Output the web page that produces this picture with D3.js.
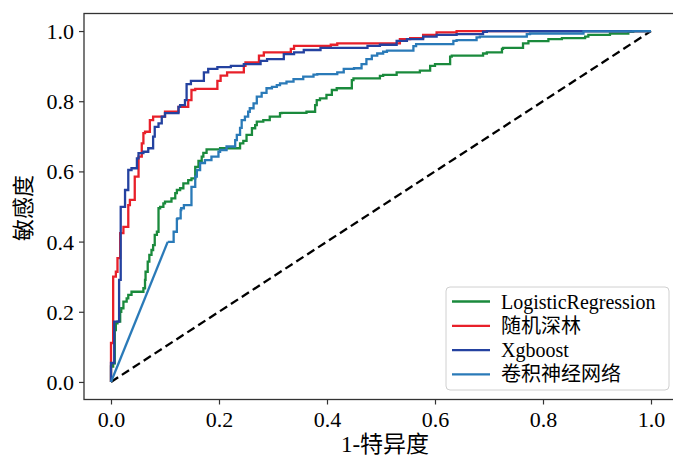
<!DOCTYPE html>
<html>
<head>
<meta charset="utf-8">
<script src="https://cdn.jsdelivr.net/npm/d3@7"></script>
<style>
  body { margin: 0; background: #fff; }
  svg text { font-family: "Liberation Serif", "Noto Sans CJK SC", serif; }
</style>
</head>
<body>
<div id="chart"></div>
<script>
// series names, in legend order
var seriesNames = ["LogisticRegression", "随机深林", "Xgboost", "卷积神经网络"];

// ROC points (false positive rate, true positive rate)
var lrFpr = [0, 0.004, 0.007, 0.009, 0.012, 0.017, 0.019, 0.023, 0.029, 0.032, 0.038, 0.041, 0.060, 0.063, 0.064, 0.068, 0.071, 0.075, 0.078, 0.081, 0.085, 0.088, 0.091, 0.097, 0.100, 0.112, 0.119, 0.122, 0.128, 0.134, 0.143, 0.149, 0.156, 0.162, 0.168, 0.171, 0.177, 0.202, 0.239, 0.245, 0.251, 0.261, 0.267, 0.270, 0.282, 0.294, 0.313, 0.316, 0.362, 0.378, 0.381, 0.387, 0.399, 0.409, 0.418, 0.446, 0.449, 0.498, 0.504, 0.529, 0.572, 0.591, 0.600, 0.628, 0.631, 0.689, 0.696, 0.724, 0.726, 0.763, 0.773, 0.810, 0.835, 0.878, 0.884, 0.924, 0.958, 0.967, 1];
var lrTpr = [0, 0.044, 0.053, 0.148, 0.167, 0.172, 0.200, 0.210, 0.229, 0.238, 0.248, 0.257, 0.257, 0.267, 0.291, 0.314, 0.343, 0.362, 0.376, 0.390, 0.419, 0.428, 0.495, 0.499, 0.509, 0.514, 0.523, 0.538, 0.547, 0.552, 0.566, 0.575, 0.580, 0.613, 0.630, 0.642, 0.653, 0.663, 0.666, 0.680, 0.687, 0.704, 0.723, 0.732, 0.742, 0.746, 0.756, 0.766, 0.767, 0.770, 0.789, 0.803, 0.808, 0.818, 0.832, 0.837, 0.860, 0.865, 0.872, 0.875, 0.882, 0.887, 0.901, 0.906, 0.927, 0.930, 0.936, 0.939, 0.949, 0.952, 0.965, 0.971, 0.977, 0.980, 0.984, 0.989, 0.993, 0.998, 1];

var rfFpr = [0, 0, 0.004, 0.004, 0.009, 0.009, 0.012, 0.012, 0.017, 0.017, 0.023, 0.032, 0.035, 0.044, 0.051, 0.057, 0.060, 0.063, 0.072, 0.078, 0.100, 0.125, 0.143, 0.149, 0.156, 0.197, 0.203, 0.215, 0.246, 0.249, 0.274, 0.283, 0.333, 0.339, 0.407, 0.419, 0.535, 0.554, 0.578, 0.603, 0.640, 0.659, 1];
var rfTpr = [0, 0.111, 0.111, 0.300, 0.300, 0.314, 0.314, 0.353, 0.353, 0.424, 0.424, 0.442, 0.504, 0.519, 0.585, 0.642, 0.680, 0.709, 0.713, 0.746, 0.756, 0.770, 0.784, 0.803, 0.832, 0.835, 0.858, 0.873, 0.882, 0.901, 0.911, 0.930, 0.939, 0.949, 0.958, 0.961, 0.965, 0.977, 0.980, 0.989, 0.996, 1, 1];

var xgbFpr = [0, 0, 0.006, 0.006, 0.015, 0.015, 0.018, 0.018, 0.026, 0.026, 0.032, 0.032, 0.038, 0.048, 0.051, 0.060, 0.069, 0.078, 0.081, 0.088, 0.094, 0.100, 0.112, 0.125, 0.128, 0.137, 0.140, 0.140, 0.148, 0.160, 0.172, 0.180, 0.197, 0.222, 0.246, 0.277, 0.289, 0.320, 0.339, 0.357, 0.388, 0.475, 0.498, 0.529, 0.548, 0.578, 0.603, 0.640, 0.689, 0.696, 1];
var xgbTpr = [0, 0.054, 0.054, 0.172, 0.172, 0.291, 0.291, 0.495, 0.499, 0.547, 0.547, 0.580, 0.604, 0.609, 0.637, 0.652, 0.656, 0.666, 0.699, 0.727, 0.737, 0.756, 0.766, 0.766, 0.784, 0.789, 0.803, 0.838, 0.849, 0.858, 0.858, 0.882, 0.892, 0.897, 0.901, 0.906, 0.915, 0.920, 0.934, 0.939, 0.946, 0.952, 0.958, 0.961, 0.972, 0.977, 0.984, 0.989, 0.991, 0.998, 1];

var cnnFpr = [0, 0.105, 0.116, 0.116, 0.122, 0.123, 0.129, 0.130, 0.135, 0.135, 0.149, 0.149, 0.156, 0.159, 0.165, 0.174, 0.186, 0.199, 0.202, 0.214, 0.230, 0.233, 0.239, 0.242, 0.248, 0.254, 0.257, 0.264, 0.270, 0.279, 0.288, 0.298, 0.307, 0.313, 0.325, 0.338, 0.356, 0.375, 0.382, 0.419, 0.431, 0.450, 0.464, 0.473, 0.483, 0.493, 0.504, 0.511, 0.560, 0.565, 0.634, 0.640, 0.677, 0.683, 0.770, 0.776, 0.875, 0.967, 1];
var cnnTpr = [0, 0.399, 0.399, 0.424, 0.428, 0.464, 0.466, 0.490, 0.495, 0.504, 0.504, 0.547, 0.556, 0.585, 0.604, 0.624, 0.632, 0.642, 0.656, 0.661, 0.671, 0.689, 0.704, 0.724, 0.746, 0.756, 0.770, 0.780, 0.794, 0.813, 0.824, 0.837, 0.841, 0.846, 0.851, 0.856, 0.863, 0.870, 0.876, 0.877, 0.882, 0.892, 0.894, 0.906, 0.920, 0.930, 0.936, 0.941, 0.944, 0.957, 0.963, 0.972, 0.974, 0.982, 0.984, 0.991, 0.993, 0.999, 1];

// chance line
var chanceFpr = [0, 1];
var chanceTpr = [0, 1];

var tickValues = [0, 0.2, 0.4, 0.6, 0.8, 1.0];

var colors = ["#1a8a3c", "#e8202a", "#2442a0", "#2a7ab8"];

var width = 673, height = 458;

var svg = d3.select("#chart")
  .append("svg")
  .attr("width", width)
  .attr("height", height);

var xScale = d3.scaleLinear().domain([-0.05, 1.05]).range([84, 678]);
var yScale = d3.scaleLinear().domain([-0.05, 1.05]).range([399.5, 13.5]);

// axes
var xAxis = d3.axisBottom(xScale).tickValues(tickValues).tickFormat(d3.format(".1f")).tickSize(5).tickSizeOuter(0).tickPadding(7);
var yAxis = d3.axisLeft(yScale).tickValues(tickValues).tickFormat(d3.format(".1f")).tickSize(5).tickSizeOuter(0).tickPadding(5);

var gx = svg.append("g")
  .attr("transform", "translate(0," + yScale(-0.05) + ")")
  .call(xAxis);
var gy = svg.append("g")
  .attr("transform", "translate(" + xScale(-0.05) + ",0)")
  .call(yAxis);

[gx, gy].forEach(function(g) {
  g.attr("font-family", null).attr("font-size", null);
  g.select(".domain").remove();
  g.selectAll(".tick line").attr("stroke", "#333").attr("stroke-width", 1.2);
  g.selectAll(".tick text").attr("fill", "#000")
    .style("font-size", "22px")
    .style("font-family", "'Liberation Serif', serif");
});
gy.selectAll(".tick text").attr("dy", "0.34em");

// lines
var line = d3.line()
  .x(function(d) { return xScale(d[0]); })
  .y(function(d) { return yScale(d[1]); });

var zip = function(a, b) { return a.map(function(v, i) { return [v, b[i]]; }); };

var lines = [zip(lrFpr, lrTpr), zip(rfFpr, rfTpr), zip(xgbFpr, xgbTpr), zip(cnnFpr, cnnTpr)];

svg.append("path")
  .attr("d", line(zip(chanceFpr, chanceTpr)))
  .attr("fill", "none")
  .attr("stroke", "#000")
  .attr("stroke-width", 2.3)
  .attr("stroke-dasharray", "8.5,4.5");

lines.forEach(function(pts, i) {
  if (i === 3) {
    // the first segment of the CNN curve is a tie: straight diagonal
    svg.append("path")
      .attr("d", line(pts.slice(0, 2)))
      .attr("fill", "none")
      .attr("stroke", colors[i])
      .attr("stroke-width", 2.3);
    pts = pts.slice(1);
  }
  svg.append("path")
    .attr("d", line.curve(d3.curveStepBefore)(pts))
    .attr("fill", "none")
    .attr("stroke", colors[i])
    .attr("stroke-width", 2.3)
    .attr("stroke-linejoin", "miter");
  line.curve(d3.curveLinear);
});

// frame
svg.append("rect")
  .attr("x", xScale(-0.05))
  .attr("y", yScale(1.05))
  .attr("width", xScale(1.05) - xScale(-0.05))
  .attr("height", yScale(-0.05) - yScale(1.05))
  .attr("fill", "none")
  .attr("stroke", "#333")
  .attr("stroke-width", 1.3);

// axis labels
svg.append("text")
  .attr("x", 385)
  .attr("y", 452)
  .attr("text-anchor", "middle")
  .attr("font-size", "23px")
  .text("1-特异度");

svg.append("text")
  .attr("transform", "translate(31,208) rotate(-90)")
  .attr("text-anchor", "middle")
  .attr("font-size", "22px")
  .text("敏感度");

// legend
var legend = svg.append("g").attr("transform", "translate(446,287)");
legend.append("rect")
  .attr("width", 223)
  .attr("height", 103)
  .attr("rx", 4)
  .attr("fill", "#fff")
  .attr("fill-opacity", 0.8)
  .attr("stroke", "#d0d0d0")
  .attr("stroke-width", 1);

seriesNames.forEach(function(name, i) {
  var y = 14.5 + i * 24.3;
  legend.append("line")
    .attr("x1", 6).attr("x2", 44)
    .attr("y1", y).attr("y2", y)
    .attr("stroke", colors[i])
    .attr("stroke-width", 2.3);
  legend.append("text")
    .attr("x", 55)
    .attr("y", y)
    .attr("dy", "0.35em")
    .attr("font-size", "20px")
    .text(name);
});
</script>
</body>
</html>
